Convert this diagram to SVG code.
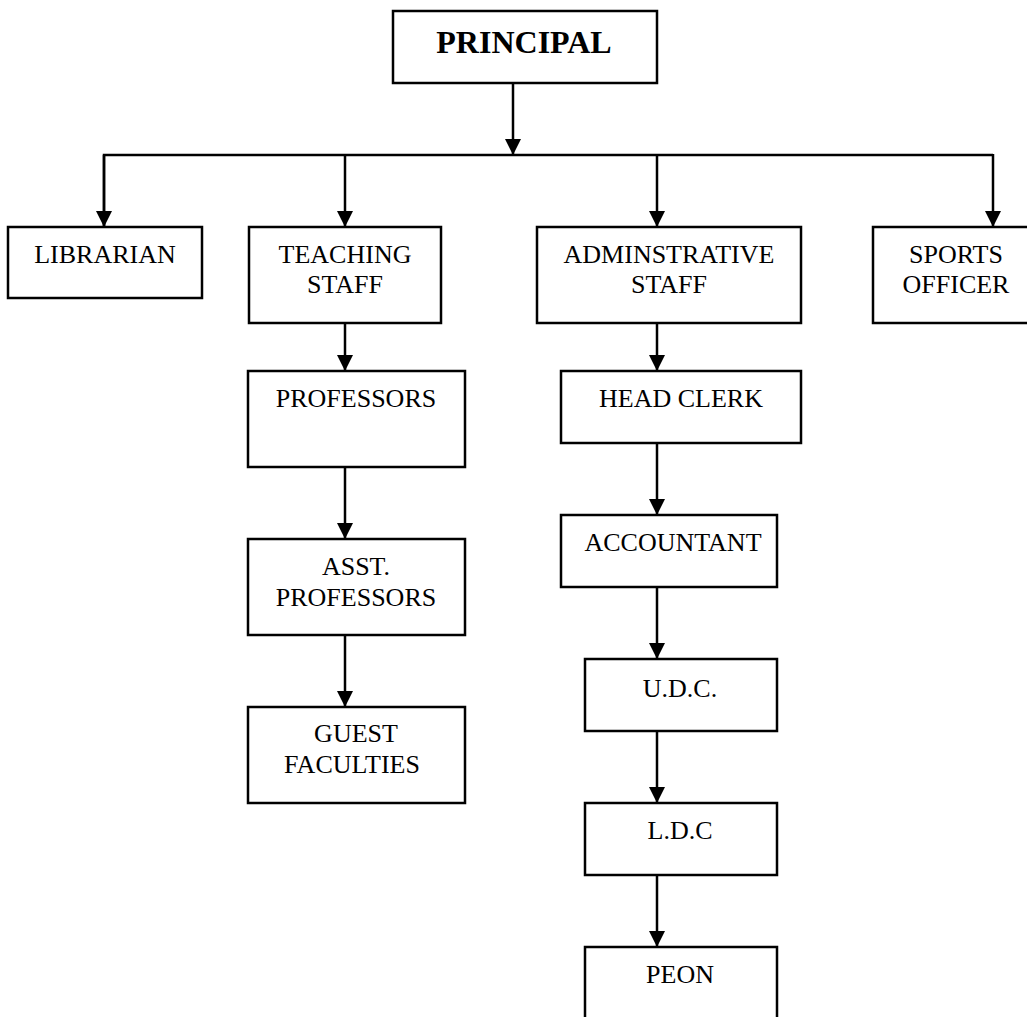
<svg xmlns="http://www.w3.org/2000/svg" width="1027" height="1017" viewBox="0 0 1027 1017">
<style>
  .box { fill: #ffffff; stroke: #000000; stroke-width: 2.5; }
  .lbl { font-family: "Liberation Serif", "Times New Roman", serif; font-size: 26px; fill: #000000; text-anchor: middle; }
  .title { font-family: "Liberation Serif", "Times New Roman", serif; font-size: 32px; font-weight: bold; fill: #000000; text-anchor: middle; }
  .conn { fill: none; stroke: #000000; stroke-width: 2.5; }
</style>
<defs>
  <marker id="arrow" markerUnits="userSpaceOnUse" viewBox="0 0 16 16" refX="16" refY="8" markerWidth="16" markerHeight="16" orient="auto">
    <path d="M0,0 L16,8 L0,16 z" fill="#000000"/>
  </marker>
</defs>
<rect x="0" y="0" width="1027" height="1017" fill="#ffffff"/>

<g id="connectors">
  <line class="conn" x1="513" y1="83" x2="513" y2="155" marker-end="url(#arrow)"/>
  <polyline class="conn" points="104,227 104,155 993,155"/>
  <line class="conn" x1="104" y1="155" x2="104" y2="227" marker-end="url(#arrow)"/>
  <line class="conn" x1="345" y1="155" x2="345" y2="227" marker-end="url(#arrow)"/>
  <line class="conn" x1="657" y1="155" x2="657" y2="227" marker-end="url(#arrow)"/>
  <line class="conn" x1="993" y1="154" x2="993" y2="227" marker-end="url(#arrow)"/>
  <line class="conn" x1="345" y1="323" x2="345" y2="371" marker-end="url(#arrow)"/>
  <line class="conn" x1="345" y1="467" x2="345" y2="539" marker-end="url(#arrow)"/>
  <line class="conn" x1="345" y1="635" x2="345" y2="707" marker-end="url(#arrow)"/>
  <line class="conn" x1="657" y1="323" x2="657" y2="371" marker-end="url(#arrow)"/>
  <line class="conn" x1="657" y1="443" x2="657" y2="515" marker-end="url(#arrow)"/>
  <line class="conn" x1="657" y1="587" x2="657" y2="659" marker-end="url(#arrow)"/>
  <line class="conn" x1="657" y1="731" x2="657" y2="803" marker-end="url(#arrow)"/>
  <line class="conn" x1="657" y1="875" x2="657" y2="947" marker-end="url(#arrow)"/>
</g>

<g id="principal">
  <rect class="box" x="393" y="11" width="264" height="72"/>
  <text class="title" x="524" y="53">PRINCIPAL</text>
</g>
<g id="librarian">
  <rect class="box" x="8" y="227" width="194" height="71"/>
  <text class="lbl" x="105" y="263">LIBRARIAN</text>
</g>
<g id="teaching-staff">
  <rect class="box" x="249" y="227" width="192" height="96"/>
  <text class="lbl" x="345" y="263">TEACHING</text>
  <text class="lbl" x="345" y="293">STAFF</text>
</g>
<g id="administrative-staff">
  <rect class="box" x="537" y="227" width="264" height="96"/>
  <text class="lbl" x="669" y="263">ADMINSTRATIVE</text>
  <text class="lbl" x="669" y="293">STAFF</text>
</g>
<g id="sports-officer">
  <rect class="box" x="873" y="227" width="170" height="96"/>
  <text class="lbl" x="956" y="263">SPORTS</text>
  <text class="lbl" x="956" y="293">OFFICER</text>
</g>
<g id="professors">
  <rect class="box" x="248" y="371" width="217" height="96"/>
  <text class="lbl" x="356" y="407">PROFESSORS</text>
</g>
<g id="asst-professors">
  <rect class="box" x="248" y="539" width="217" height="96"/>
  <text class="lbl" x="356" y="575">ASST.</text>
  <text class="lbl" x="356" y="606">PROFESSORS</text>
</g>
<g id="guest-faculties">
  <rect class="box" x="248" y="707" width="217" height="96"/>
  <text class="lbl" x="356" y="742">GUEST</text>
  <text class="lbl" x="352" y="773">FACULTIES</text>
</g>
<g id="head-clerk">
  <rect class="box" x="561" y="371" width="240" height="72"/>
  <text class="lbl" x="681" y="407">HEAD CLERK</text>
</g>
<g id="accountant">
  <rect class="box" x="561" y="515" width="216" height="72"/>
  <text class="lbl" x="673" y="551">ACCOUNTANT</text>
</g>
<g id="udc">
  <rect class="box" x="585" y="659" width="192" height="72"/>
  <text class="lbl" x="680" y="697">U.D.C.</text>
</g>
<g id="ldc">
  <rect class="box" x="585" y="803" width="192" height="72"/>
  <text class="lbl" x="680" y="839">L.D.C</text>
</g>
<g id="peon">
  <rect class="box" x="585" y="947" width="192" height="90"/>
  <text class="lbl" x="680" y="983">PEON</text>
</g>
</svg>
